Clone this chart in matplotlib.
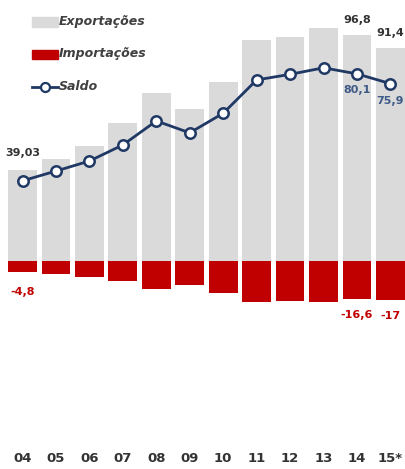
import matplotlib
matplotlib.use("Agg")
import matplotlib.pyplot as plt
from matplotlib.patches import Rectangle
from matplotlib.lines import Line2D

plt.rcParams['font.family'] = ['Liberation Sans Narrow', 'DejaVu Sans']

years = ["04", "05", "06", "07", "08", "09", "10", "11", "12", "13", "14", "15*"]
exportacoes = [39.03, 43.4, 49.1, 58.9, 71.8, 64.9, 76.7, 94.6, 96.1, 99.7, 96.8, 91.4]
importacoes = [-4.8, -5.6, -7.2, -9.0, -12.2, -10.3, -13.9, -17.9, -17.2, -17.8, -16.6, -17]
saldo = [34.2, 38.4, 42.7, 49.6, 59.9, 54.8, 63.2, 77.5, 79.9, 82.7, 80.1, 75.9]

GRAY = "#dadada"
RED = "#c00000"
NAVY = "#1f3864"
DARK = "#333333"
SLATE = "#3e5a86"

W, H = 405, 469
fig = plt.figure(figsize=(W / 100, H / 100), dpi=100)
ax = fig.add_axes([0, 16 / H, 1, 1 - 16 / H])

x = list(range(len(years)))
ax.bar(x, exportacoes, width=0.86, color=GRAY, zorder=1)
ax.bar(x, importacoes, width=0.86, color=RED, zorder=1)
ax.plot(x, saldo, color=NAVY, lw=2.0, marker="o", ms=7.5, mfc="white",
        mec=NAVY, mew=1.8, zorder=3)

ax.set_xlim(-0.673, 11.435)
ax.set_ylim(-82.6, 111.8)
for s in ax.spines.values():
    s.set_visible(False)
ax.set_yticks([])
ax.set_xticks(x)
ax.set_xticklabels(years, fontsize=9.5, fontweight="bold", color=DARK)
ax.tick_params(axis="x", length=0, pad=-1)

def label(i, v, txt, dy, color):
    ax.annotate(txt, (i, v), xytext=(0, dy), textcoords="offset pixels",
                ha="center", va="center", fontsize=8, fontweight="bold",
                color=color, zorder=4)

label(0, exportacoes[0], "39,03", 17, DARK)
label(10, exportacoes[10], "96,8", 15, DARK)
label(11, exportacoes[11], "91,4", 15, DARK)
label(10, saldo[10], "80,1", -16, SLATE)
label(11, saldo[11], "75,9", -17, SLATE)
label(0, importacoes[0], "-4,8", -20, RED)
label(10, importacoes[10], "-16,6", -16, RED)
label(11, importacoes[11], "-17", -16, RED)

# legend drawn in figure pixel space
def fy(py):
    return 1 - py / H

def fx(px):
    return px / W

fig.patches.append(Rectangle((fx(32), fy(27)), fx(26), 10 / H, color=GRAY,
                             transform=fig.transFigure, figure=fig))
fig.patches.append(Rectangle((fx(32), fy(59)), fx(26), 9 / H, color=RED,
                             transform=fig.transFigure, figure=fig))
fig.lines.append(Line2D([fx(32), fx(58)], [fy(87), fy(87)], color=NAVY, lw=2.0,
                        transform=fig.transFigure, figure=fig))
fig.lines.append(Line2D([fx(45)], [fy(87)], marker="o", ms=6.5, mfc="white",
                        mec=NAVY, mew=1.6, transform=fig.transFigure, figure=fig))
for py, txt in [(21, "Exportações"), (53, "Importações"), (87, "Saldo")]:
    fig.text(fx(59), fy(py), txt, ha="left", va="center", fontsize=9,
             fontweight="bold", fontstyle="italic", color="#404040")

fig.savefig("out.png", dpi=100, facecolor="white")
